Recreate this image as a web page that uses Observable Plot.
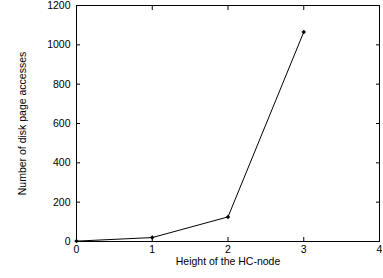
<!DOCTYPE html>
<html><head><meta charset="utf-8">
<script src="https://cdn.jsdelivr.net/npm/d3@7"></script>
<script src="https://cdn.jsdelivr.net/npm/@observablehq/plot@0.6"></script>
<style>body{margin:0;background:#fff} svg{overflow:visible}</style>
</head><body><div id="chart"></div>
<script>
const heights = [0, 1, 2, 3];
const accesses = [2, 20, 125, 1065];
const xTicks = [0, 1, 2, 3, 4];
const yTicks = [0, 200, 400, 600, 800, 1000, 1200];
const xLabel = "Height of the HC-node";
const yLabel = "Number of disk page accesses";

const data = heights.map((h, i) => ({h, v: accesses[i]}));

const chart = Plot.plot({
  width: 383, height: 278,
  marginLeft: 76, marginRight: 4, marginTop: 5, marginBottom: 37,
  style: {fontFamily: "'Liberation Sans', Arial, sans-serif", fontSize: "10.5px", color: "#000", background: "#fff", overflow: "visible"},
  x: {domain: [0, 4]},
  y: {domain: [0, 1200]},
  marks: [
    Plot.frame({stroke: "#000", strokeWidth: 1}),
    Plot.axisX({ticks: xTicks, tickSize: 0, tickPadding: 4, label: null, tickFormat: d3.format("d")}),
    Plot.axisX({ticks: xTicks, tickSize: -4, text: null, label: null}),
    Plot.axisX({anchor: "top", ticks: xTicks, tickSize: -4, text: null, label: null}),
    Plot.axisY({ticks: yTicks, tickSize: 0, tickPadding: 6, label: null, tickFormat: d3.format("d")}),
    Plot.axisY({ticks: yTicks, tickSize: -4, text: null, label: null}),
    Plot.axisY({anchor: "right", ticks: yTicks, tickSize: -4, text: null, label: null}),
    Plot.line(data, {x: "h", y: "v", stroke: "#000", strokeWidth: 1}),
    Plot.dot(data, {x: "h", y: "v", symbol: "diamond2", r: 2, fill: "#000", stroke: "none"}),
    Plot.text([xLabel], {frameAnchor: "bottom", dy: 23, fontSize: 10.5}),
    Plot.text([yLabel], {frameAnchor: "left", textAnchor: "middle", dx: -54, rotate: -90, fontSize: 10.5})
  ]
});
document.getElementById("chart").appendChild(chart);
</script>
</body></html>
